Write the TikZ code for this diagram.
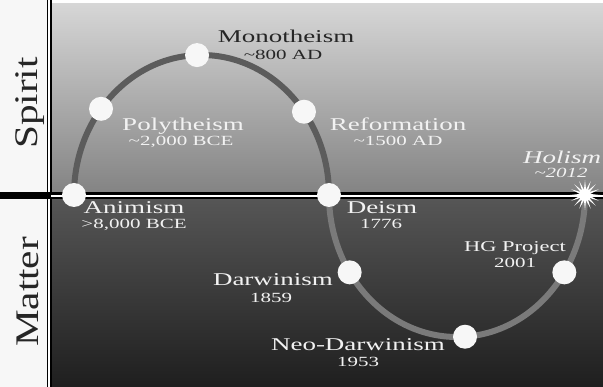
\documentclass[tikz,border=0pt]{standalone}
\usepackage{fontspec}
\setmainfont{Liberation Serif}[FakeStretch=1.5]
\newfontfamily\sidefont{Liberation Serif}[FakeStretch=1.25]
\usetikzlibrary{shapes.geometric, positioning}
\definecolor{curveup}{HTML}{5C5C5C}
\definecolor{curvedown}{HTML}{7A7A7A}
\definecolor{inkdark}{HTML}{262626}
\definecolor{inklight}{HTML}{F2F2F2}

\tikzset{
  era/.style={circle, fill=white!94!gray, inner sep=0pt, minimum size=24pt},
  eraname/.style={anchor=base, inner sep=0pt, text=inklight, font=\fontsize{18}{18}\selectfont},
  eradate/.style={anchor=base, inner sep=0pt, text=inklight, font=\fontsize{14}{14}\selectfont},
  sidelabel/.style={rotate=90, anchor=base, inner sep=0pt, text=inkdark, font=\sidefont\fontsize{33}{33}\selectfont}
}

\begin{document}
\begin{tikzpicture} [x=1pt, y=-1pt]
\useasboundingbox (0,0) rectangle (603,387);

% panels
\fill[white!94!gray] (0,0) rectangle (49,387);
\shade[top color=gray!32, middle color=gray!66, bottom color=gray!98] (49,4) rectangle (603,196);
\shade[top color=black!66, bottom color=black!88] (49,196) rectangle (603,387);
\draw[line width=5pt, black] (49,0) -- (49,387);
\draw[line width=1.5pt, white] (49,0) -- (49,387);
\draw[line width=7pt, black] (0,196) -- (603,196);
\draw[line width=2pt, white] (51,196) -- (603,196);

\node[sidelabel] (spirit) at (37,103) {Spirit};
\node[sidelabel] (matter) at (38,292) {Matter};

% the wave
\coordinate (up) at (201.5,195);
\coordinate (down) at (457,195);
\draw[curveup, line width=6pt] (74,195) arc[start angle=180, end angle=360, x radius=127.5, y radius=140];
\draw[curvedown, line width=6pt] (329,195) arc[start angle=180, end angle=0, x radius=128, y radius=142];

\foreach \t/\n in {180/anim, 218/poly, 268/mono, 323.5/refo, 360/deism}
  \path (up) ++(\t:127.5 and 140) node[era] (\n) {};
\foreach \t/\n in {147/darw, 86.4/neo, 33/hgp}
  \path (down) ++(\t:128 and 142) node[era] (\n) {};
\path (down) ++(0:128 and 142) node[star, star points=16, star point ratio=2.8, fill=white, inner sep=0pt, minimum size=30pt] (holism) {};

% labels
\node[eraname, text=inkdark] (mononame) at (286,43) {Monotheism};
\node[eradate, text=inkdark] (monodate) at (283,60) {\textasciitilde800 AD};
\node[eraname] (polyname) at (183,131) {Polytheism};
\node[eradate] (polydate) at (181,146) {\textasciitilde2,000 BCE};
\node[eraname] (refoname) at (398,131) {Reformation};
\node[eradate] (refodate) at (398,146) {\textasciitilde1500 AD};
\node[eraname, anchor=base west, font=\itshape\fontsize{18}{18}\selectfont] (holname) at (523,164) {Holism};
\node[eradate, font=\itshape\fontsize{14}{14}\selectfont] (holdate) at (561,178) {\textasciitilde2012};
\node[eraname] (animname) at (134,214) {Animism};
\node[eradate] (animdate) at (134,229) {>8,000 BCE};
\node[eraname] (deismname) at (382,214) {Deism};
\node[eradate] (deismdate) at (381,229) {1776};
\node[eraname] (darwname) at (273,286) {Darwinism};
\node[eradate] (darwdate) at (271,303) {1859};
\node[eraname, font=\fontsize{15}{15}\selectfont] (hgpname) at (515,252) {HG Project};
\node[eradate] (hgpdate) at (515,268) {2001};
\node[eraname] (neoname) at (358,351) {Neo-Darwinism};
\node[eradate] (neodate) at (358,367) {1953};
\end{tikzpicture}
\end{document}
